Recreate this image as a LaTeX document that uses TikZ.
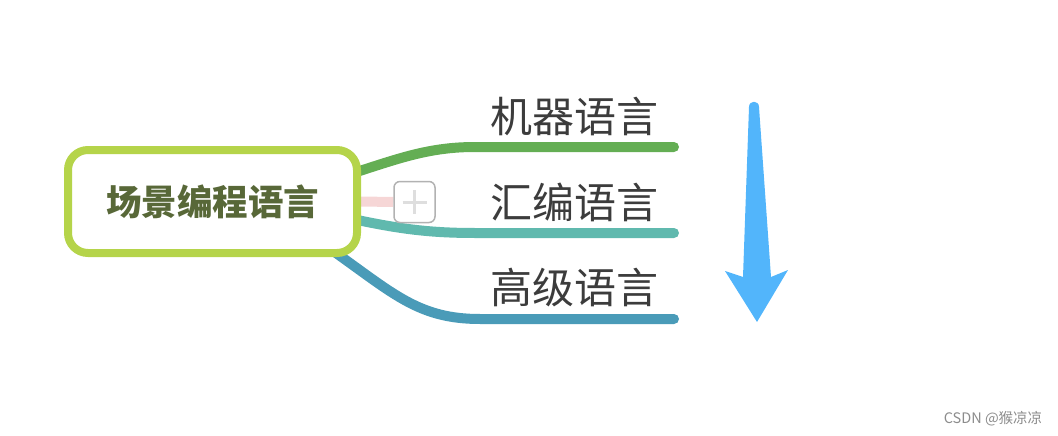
\documentclass[tikz,border=0pt]{standalone}
\usepackage{fontspec}
\newfontfamily\cjk{Noto Sans CJK SC}
\usetikzlibrary{backgrounds,calc}
\definecolor{boxgreen}{RGB}{181,212,74}
\definecolor{roottext}{RGB}{88,104,56}
\definecolor{brgreen}{RGB}{100,174,84}
\definecolor{brteal}{RGB}{96,185,174}
\definecolor{brblue}{RGB}{74,155,184}
\definecolor{labeltext}{RGB}{60,60,60}
\definecolor{arrowblue}{RGB}{82,181,251}
\definecolor{pinkline}{RGB}{246,214,214}
\tikzset{
  rootbox/.style={draw=boxgreen, line width=8pt, rounded corners=20pt, fill=white,
    minimum width=289pt, minimum height=103pt, inner sep=0pt,
    font=\cjk\bfseries\fontsize{35.5}{35.5}\selectfont, text=roottext},
  leaflabel/.style={inner sep=0pt, font=\cjk\fontsize{42}{42}\selectfont, text=labeltext},
  branch/.style={line width=10pt, line cap=round},
  plusbox/.style={draw=black!30, line width=1.5pt, rounded corners=6pt, fill=white,
    minimum width=41pt, minimum height=41pt, inner sep=0pt},
}
\begin{document}
\begin{tikzpicture}[x=1pt,y=-1pt]
\useasboundingbox (0,0) rectangle (1058,436);
\node[rootbox] (root) at (212.5,201.5) {场景编程语言};
\node[leaflabel] (l1) at (574.5,116) {机器语言};
\node[leaflabel] (l2) at (574.5,202) {汇编语言};
\node[leaflabel] (l3) at (574.5,288) {高级语言};
\coordinate (e1) at (674,147);
\coordinate (e2) at (674,233);
\coordinate (e3) at (674,319);
\node[plusbox] (plus) at (414.5,202) {};
\begin{scope}[on background layer]
  \draw[branch, brgreen] ($(root.east)+(-6,-29)$) .. controls (400,158) and (430,147) .. (475,147) -- (e1);
  \draw[branch, brteal] ($(root.east)+(-6,18)$) .. controls (400,229) and (430,233) .. (475,233) -- (e2);
  \draw[branch, brblue] ($(root.south east)+(-25,-4)$) .. controls (395,295) and (420,319) .. (480,319) -- (e3);
  \draw[line width=10pt, pinkline] (root.east) -- (plus.west);
\end{scope}
\draw[black!13, line width=3pt] ($(plus.center)+(-12,0)$) -- ($(plus.center)+(12,0)$);
\draw[black!13, line width=3pt] ($(plus.center)+(0,-12)$) -- ($(plus.center)+(0,12)$);
\fill[arrowblue] (749,107) -- (743,277) -- (725,271) -- (757,322) -- (788,270) -- (771,277) -- (759,107)
  .. controls (759,100) and (749,100) .. (749,107) -- cycle;
\node[inner sep=0pt, font=\cjk\fontsize{14.5}{14.5}\selectfont, text=black!45] (wm) at (993,419) {CSDN @猴凉凉};
\end{tikzpicture}
\end{document}
